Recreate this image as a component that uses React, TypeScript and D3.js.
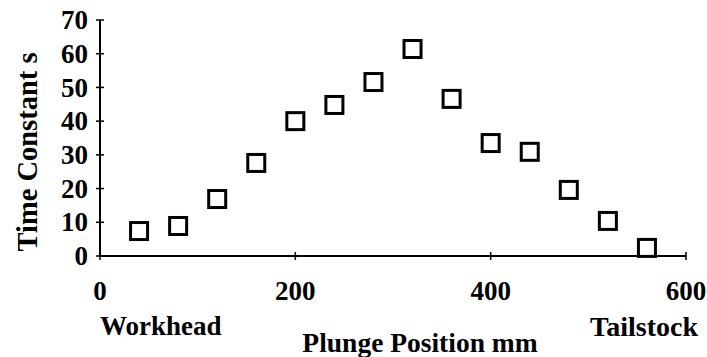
import * as d3 from 'd3';

// plunge position (mm) and measured time constant (s)
const positions = [40, 80, 120, 160, 200, 240, 280, 320, 360, 400, 440, 480, 520, 560];
const timeConstants = [7.4, 8.9, 16.9, 27.6, 40, 44.8, 51.6, 61.4, 46.6, 33.5, 30.9, 19.6, 10.4, 2.4];
const yTicks = [0, 10, 20, 30, 40, 50, 60, 70];
const xTicks = [0, 200, 400, 600];

export default function App() {
  const width = 707;
  const height = 357;
  const x = d3.scaleLinear().domain([0, 600]).range([100, 686]);
  const y = d3.scaleLinear().domain([0, 70]).range([256, 20]);
  const font = '"Liberation Serif", "Times New Roman", serif';
  const box = 17;

  return (
    <svg
      width={width}
      height={height}
      style={{ position: 'absolute', left: 0, top: 0, background: '#fff' }}
      fontFamily={font}
      fontWeight="bold"
    >
      {/* y axis */}
      <line x1={x(0)} x2={x(0)} y1={y(70)} y2={y(0)} stroke="#000" strokeWidth={2} />
      {yTicks.map(t => (
        <g key={'y' + t}>
          <line x1={x(0) - 4} x2={x(0) + 4} y1={y(t)} y2={y(t)} stroke="#000" strokeWidth={1.5} />
          <text x={88} y={y(t)} dy="0.34em" textAnchor="end" fontSize={27}>{t}</text>
        </g>
      ))}
      {/* x axis */}
      <line x1={x(0)} x2={x(600)} y1={y(0)} y2={y(0)} stroke="#000" strokeWidth={2} />
      {xTicks.map(t => (
        <g key={'x' + t}>
          <line x1={x(t)} x2={x(t)} y1={y(0) - 4} y2={y(0) + 4} stroke="#000" strokeWidth={1.5} />
          <text x={x(t)} y={300} textAnchor="middle" fontSize={27}>{t}</text>
        </g>
      ))}
      {/* markers */}
      {positions.map((p, i) => (
        <rect
          key={p}
          x={x(p) - box / 2}
          y={y(timeConstants[i]) - box / 2}
          width={box}
          height={box}
          fill="none"
          stroke="#000"
          strokeWidth={3}
        />
      ))}
      {/* titles */}
      <text x={100} y={335} textAnchor="start" fontSize={27}>Workhead</text>
      <text x={698} y={336} textAnchor="end" fontSize={28}>Tailstock</text>
      <text x={420} y={352} textAnchor="middle" fontSize={27.5}>Plunge Position mm</text>
      <text
        transform="translate(37,152) rotate(-90)"
        textAnchor="middle"
        fontSize={28.5}
      >
        Time Constant s
      </text>
    </svg>
  );
}
